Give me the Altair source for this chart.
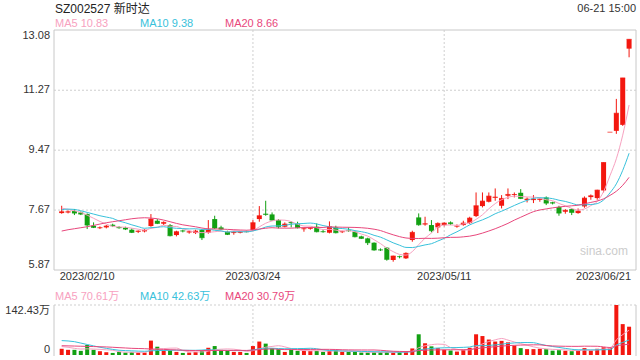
import altair as alt
import pandas as pd
import numpy as np

# ---------------- data ----------------
opens = [7.58, 7.60, 7.64, 7.60, 7.55, 7.20, 7.13, 7.15, 7.23, 7.16,
         7.14, 7.08, 7.02, 7.03, 7.19, 7.35, 7.26, 7.22, 6.92, 7.05,
         7.00, 6.98, 7.07, 6.99, 7.40, 7.15, 7.02, 6.98, 6.99, 7.03,
         7.07, 7.40, 7.56, 7.54, 7.37, 7.17, 7.31, 7.26, 7.10, 7.11,
         7.17, 7.03, 6.99, 7.15, 7.01, 7.06, 7.02, 6.88, 6.82, 6.69,
         6.48, 6.54, 6.17, 6.28, 6.22, 6.77, 7.45, 7.24, 7.22, 7.15,
         7.22, 7.30, 7.18, 7.22, 7.28, 7.49, 7.79, 7.92, 8.04, 7.80,
         8.10, 8.12, 8.19, 7.97, 7.97, 7.98, 8.05, 7.90, 7.76, 7.62,
         7.70, 7.58, 7.78, 8.06, 8.03, 8.26, 10.01, 10.05, 10.23, 12.52]
highs = [7.80, 7.66, 7.70, 7.63, 7.57, 7.30, 7.18, 7.22, 7.26, 7.19,
         7.17, 7.12, 7.06, 7.10, 7.55, 7.40, 7.33, 7.25, 7.05, 7.08,
         7.05, 7.08, 7.10, 7.37, 7.50, 7.20, 7.05, 7.04, 7.04, 7.05,
         7.37, 7.79, 7.95, 7.60, 7.40, 7.30, 7.33, 7.32, 7.14, 7.16,
         7.27, 7.07, 7.33, 7.20, 7.05, 7.15, 7.04, 6.90, 6.84, 6.70,
         6.52, 6.56, 6.30, 6.30, 6.40, 7.05, 7.57, 7.47, 7.37, 7.30,
         7.30, 7.33, 7.24, 7.35, 7.47, 8.20, 8.20, 8.20, 8.32, 8.12,
         8.32, 8.20, 8.30, 8.05, 8.12, 8.02, 8.08, 7.92, 7.80, 7.70,
         7.72, 7.72, 8.08, 8.14, 8.28, 9.10, 10.01, 11.01, 11.64, 12.80]
lows = [7.56, 7.57, 7.52, 7.52, 7.10, 7.13, 7.10, 7.12, 7.16, 7.11,
        7.07, 6.98, 6.98, 7.00, 7.17, 7.25, 7.22, 6.88, 6.88, 7.00,
        6.96, 6.95, 6.77, 6.96, 7.10, 7.08, 6.92, 6.93, 6.97, 7.00,
        7.05, 7.32, 7.50, 7.35, 7.12, 7.15, 7.15, 7.12, 7.02, 7.08,
        7.00, 6.99, 6.97, 6.97, 6.98, 7.02, 6.85, 6.80, 6.62, 6.45,
        6.44, 6.15, 6.12, 6.22, 6.20, 6.72, 7.20, 7.20, 7.00, 6.98,
        7.18, 7.22, 7.14, 7.20, 7.25, 7.46, 7.75, 7.90, 7.95, 7.72,
        8.00, 8.05, 8.00, 7.90, 7.88, 7.92, 7.82, 7.84, 7.50, 7.56,
        7.52, 7.56, 7.74, 7.98, 7.98, 8.20, 10.01, 9.96, 10.20, 12.26]
closes = [7.62, 7.62, 7.58, 7.55, 7.22, 7.15, 7.14, 7.19, 7.20, 7.14,
          7.10, 7.00, 7.04, 7.06, 7.40, 7.27, 7.30, 6.90, 7.02, 7.04,
          7.02, 7.04, 6.84, 7.07, 7.13, 7.10, 6.94, 7.00, 7.02, 7.02,
          7.29, 7.50, 7.54, 7.37, 7.17, 7.25, 7.29, 7.14, 7.11, 7.14,
          7.02, 7.02, 7.17, 6.99, 7.02, 7.05, 6.87, 6.82, 6.69, 6.47,
          6.47, 6.19, 6.29, 6.27, 6.37, 7.00, 7.23, 7.26, 7.05, 7.27,
          7.28, 7.26, 7.19, 7.28, 7.43, 7.80, 7.94, 8.09, 8.06, 8.02,
          8.14, 8.14, 8.02, 8.00, 8.00, 8.00, 7.88, 7.88, 7.58, 7.66,
          7.60, 7.64, 8.03, 8.10, 8.27, 9.10, 10.01, 10.58, 11.64, 12.80]
volumes = [17.7, 14.7, 14.7, 11.8, 28.5, 14.7, 10.8, 7.9, 5.9, 8.8,
           6.9, 8.8, 6.9, 6.9, 41.0, 23.6, 12.8, 12.8, 8.8, 5.9,
           6.9, 8.8, 12.8, 20.6, 25.5, 14.7, 12.8, 8.8, 8.8, 5.9,
           25.5, 38.3, 32.4, 19.6, 16.7, 8.8, 14.7, 11.8, 11.8, 11.8,
           11.8, 8.8, 11.8, 13.8, 8.8, 8.8, 8.8, 6.9, 6.9, 7.9,
           7.9, 8.8, 6.9, 8.8, 10.8, 18.7, 59.0, 33.4, 24.6, 19.6,
           14.7, 12.8, 9.8, 14.7, 20.6, 59.0, 54.0, 44.0, 38.3, 40.3,
           36.0, 27.0, 19.6, 16.7, 16.7, 17.7, 16.7, 12.3, 13.7, 12.1,
           10.8, 12.8, 19.6, 12.8, 17.7, 22.0, 20.0, 142.43, 88.0, 80.6]

# moving-average values at the left edge (their windows start before the chart)
ma5_head = [7.73, 7.69, 7.65, 7.60]
ma10_head = [7.68, 7.70, 7.69, 7.65, 7.60, 7.55, 7.50, 7.46, 7.42]
ma20_head = [7.04, 7.08, 7.11, 7.14, 7.17, 7.21, 7.25, 7.29, 7.32, 7.35,
             7.38, 7.41, 7.43, 7.44, 7.43, 7.41, 7.37, 7.32, 7.27]
vma5_head = [24.0, 22.0, 19.0, 17.0]
vma10_head = [41.0, 40.0, 38.0, 34.0, 30.0, 26.0, 22.0, 19.0, 16.0]
vma20_head = [26.5, 26.0, 25.5, 25.0, 24.5, 24.0, 23.5, 23.0, 22.0, 21.0,
              20.0, 19.0, 18.5, 18.0, 17.0, 16.5, 16.0, 15.0, 14.5]

price_ticks = [13.08, 11.27, 9.47, 7.67, 5.87]
vol_ticks = [142.43, 0]
vol_tick_labels = ["142.43万", "0"]
date_idx = [0, 30, 60, 89]
date_labels = ["2023/02/10", "2023/03/24", "2023/05/11", "2023/06/21"]
title_text = "SZ002527 新时达"
time_text = "06-21 15:00"
legend_price = ["MA5 10.83", "MA10 9.38", "MA20 8.66"]
legend_vol = ["MA5 70.61万", "MA10 42.63万", "MA20 30.79万"]

# ---------------- styling ----------------
RED = "#f3170f"
GREEN = "#12a012"
MA_COLORS = ["#f7a1c0", "#38c1db", "#e8477c"]
GRID = "#cfcfcf"
FRAME = "#c8c8c8"
FONT = "Liberation Sans, Noto Sans CJK SC"

n = len(closes)
df = pd.DataFrame({"idx": np.arange(n), "open": opens, "high": highs,
                   "low": lows, "close": closes, "vol": volumes})
df["col"] = np.where(df["close"] >= df["open"], RED, GREEN)


def with_head(series, window, head):
    s = series.rolling(window).mean()
    s.iloc[:len(head)] = head
    return s


c = pd.Series(closes)
v = pd.Series(volumes)
ma_price = [with_head(c, 5, ma5_head), with_head(c, 10, ma10_head), with_head(c, 20, ma20_head)]
ma_vol = [with_head(v, 5, vma5_head), with_head(v, 10, vma10_head), with_head(v, 20, vma20_head)]

X = alt.X("idx:Q", scale=alt.Scale(domain=[-0.42, 89.3], range=[54, 636], nice=False, zero=False), axis=None)


def PY(field):
    return alt.Y(field, type="quantitative",
                 scale=alt.Scale(domain=[5.87, 13.08], range=[270, 30], nice=False, zero=False), axis=None)


def VY(field):
    return alt.Y(field, type="quantitative",
                 scale=alt.Scale(domain=[0, 142.43], range=[355, 305], nice=False, zero=False), axis=None)


one = pd.DataFrame({"a": [0]})
layers = []

# frames and grid
layers.append(alt.Chart(one).mark_rect(filled=False, stroke=FRAME, strokeWidth=1).encode(
    x=alt.value(54), x2=alt.value(636), y=alt.value(30), y2=alt.value(270)))
grid_h = pd.DataFrame({"p": price_ticks[1:4]})
layers.append(alt.Chart(grid_h).mark_rule(stroke=GRID, strokeDash=[2, 2]).encode(
    y=PY("p"), x=alt.value(54), x2=alt.value(636)))
grid_v = pd.DataFrame({"idx": date_idx[1:3]})
layers.append(alt.Chart(grid_v).mark_rule(stroke=GRID, strokeDash=[2, 2]).encode(
    x=X, y=alt.value(30), y2=alt.value(270)))
layers.append(alt.Chart(grid_v).mark_rule(stroke=GRID, strokeDash=[2, 2]).encode(
    x=X, y=alt.value(305), y2=alt.value(355)))
layers.append(alt.Chart(one).mark_rule(stroke=GRID, strokeDash=[2, 2]).encode(
    x=alt.value(54), x2=alt.value(636), y=alt.value(305)))
layers.append(alt.Chart(one).mark_rule(stroke=FRAME).encode(
    x=alt.value(54), y=alt.value(305), y2=alt.value(356)))
layers.append(alt.Chart(one).mark_rule(stroke=FRAME).encode(
    x=alt.value(636), y=alt.value(305), y2=alt.value(356)))

# watermark
layers.append(alt.Chart(pd.DataFrame({"t": ["sina.com"]})).mark_text(
    align="right", baseline="middle", fontSize=12, font=FONT, color="#cccccc").encode(
    x=alt.value(628), y=alt.value(251), text="t:N"))

# candles
col = alt.Color("col:N", scale=None)
layers.append(alt.Chart(df).mark_rule(strokeWidth=1).encode(x=X, y=PY("low"), y2="high", color=col))
layers.append(alt.Chart(df).mark_bar(size=5).encode(x=X, y=PY("open"), y2="close", color=col))
layers.append(alt.Chart(df).mark_tick(orient="horizontal", size=5, thickness=1).encode(
    x=X, y=PY("close"), color=col))

# price moving averages
for s, colr in zip(ma_price, MA_COLORS):
    d = pd.DataFrame({"idx": np.arange(n), "m": s.values})
    layers.append(alt.Chart(d).mark_line(strokeWidth=1, interpolate="monotone", color=colr).encode(
        x=X, y=PY("m")))

# volume
layers.append(alt.Chart(df).mark_bar(size=4).encode(x=X, y=VY("vol"), color=col))
for s, colr in zip(ma_vol, MA_COLORS):
    d = pd.DataFrame({"idx": np.arange(n), "m": s.values})
    layers.append(alt.Chart(d).mark_line(strokeWidth=1, interpolate="monotone", color=colr).encode(
        x=X, y=VY("m")))

# price axis labels
pt = pd.DataFrame({"p": price_ticks, "t": [f"{p:.2f}" for p in price_ticks]})
for sub, base in [(pt.iloc[[0]], "top"), (pt.iloc[1:4], "middle"), (pt.iloc[[4]], "bottom")]:
    layers.append(alt.Chart(sub).mark_text(align="right", baseline=base, fontSize=11, font=FONT,
                                           color="#333333").encode(
        x=alt.value(50), y=PY("p"), text="t:N"))
vt = pd.DataFrame({"p": vol_ticks, "t": vol_tick_labels})
layers.append(alt.Chart(vt.iloc[[0]]).mark_text(align="right", baseline="top", fontSize=11, font=FONT,
                                                color="#333333").encode(
    x=alt.value(50), y=VY("p"), text="t:N"))
layers.append(alt.Chart(vt.iloc[[1]]).mark_text(align="right", baseline="bottom", fontSize=11, font=FONT,
                                                color="#333333").encode(
    x=alt.value(50), y=VY("p"), text="t:N"))

# date labels
dl = pd.DataFrame({"idx": date_idx, "t": date_labels})
for sub, al, dx in [(dl.iloc[[0]], "left", -2), (dl.iloc[1:3], "center", 0), (dl.iloc[[3]], "right", 2)]:
    layers.append(alt.Chart(sub).mark_text(align=al, baseline="middle", fontSize=11, font=FONT,
                                           color="#333333", dx=dx).encode(
        x=X, y=alt.value(277), text="t:N"))

# title texts
layers.append(alt.Chart(pd.DataFrame({"t": [title_text]})).mark_text(
    align="left", baseline="middle", fontSize=12, font=FONT, color="#222222").encode(
    x=alt.value(55), y=alt.value(9), text="t:N"))
layers.append(alt.Chart(pd.DataFrame({"t": [time_text]})).mark_text(
    align="right", baseline="middle", fontSize=11, font=FONT, color="#333333").encode(
    x=alt.value(636), y=alt.value(9), text="t:N"))

# legends
for i, (tp, tv, colr) in enumerate(zip(legend_price, legend_vol, MA_COLORS)):
    xpos = 55 + 85 * i
    layers.append(alt.Chart(pd.DataFrame({"t": [tp]})).mark_text(
        align="left", baseline="middle", fontSize=11, font=FONT, color=colr).encode(
        x=alt.value(xpos), y=alt.value(24), text="t:N"))
    layers.append(alt.Chart(pd.DataFrame({"t": [tv]})).mark_text(
        align="left", baseline="middle", fontSize=11, font=FONT, color=colr).encode(
        x=alt.value(xpos), y=alt.value(297), text="t:N"))

chart = alt.layer(*layers).resolve_scale(y="independent").properties(
    width=640, height=360, padding=0,
    autosize=alt.AutoSizeParams(type="none"),
    background="white",
).configure_view(strokeWidth=0)

chart.save("out.html", embed_options={"renderer": "svg", "actions": False})
